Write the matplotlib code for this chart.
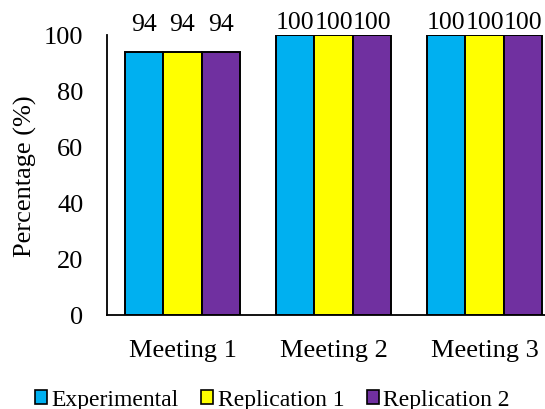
import matplotlib
matplotlib.use("Agg")
import matplotlib.pyplot as plt
import numpy as np

categories = ["Meeting 1", "Meeting 2", "Meeting 3"]
series_names = ["Experimental", "Replication 1", "Replication 2"]
experimental = [94, 100, 100]
replication_1 = [94, 100, 100]
replication_2 = [94, 100, 100]
y_ticks = [0, 20, 40, 60, 80, 100]

colors = ["#00B0F0", "#FFFF00", "#7030A0"]
plt.rcParams["font.family"] = ["Liberation Serif", "DejaVu Serif"]

fig = plt.figure(figsize=(5.45, 4.10), dpi=100)
ax = fig.add_axes([107 / 545, 1 - 316 / 410, 1 - 107 / 545, (316 - 36) / 410])

x = np.arange(len(categories))
width = 0.256
all_series = [experimental, replication_1, replication_2]
for i, (vals, name, col) in enumerate(zip(all_series, series_names, colors)):
    pos = x + (i - 1) * width
    ax.bar(pos, vals, width, color=col, edgecolor="black", linewidth=1.4,
           label=name, zorder=3)
    for px, v in zip(pos, vals):
        off = 12 if v < 100 else 1.5
        ax.annotate(f"{v}", xy=(px, v), xytext=(0, off), textcoords="offset points",
                    ha="center", va="bottom", fontsize=18.5, annotation_clip=False)

ax.set_xlim(-0.5, (545 - 107) / 151 - 0.5)
ax.set_ylim(0, 100)
ax.set_yticks(y_ticks)
ax.set_xticks(x)
ax.set_xticklabels(categories)
ax.tick_params(axis="both", length=0, labelsize=19)
ax.tick_params(axis="y", pad=17)
ax.tick_params(axis="x", pad=17)
for s in ["top", "right"]:
    ax.spines[s].set_visible(False)
for s in ["left", "bottom"]:
    ax.spines[s].set_color("black")
    ax.spines[s].set_linewidth(1.3)
ax.set_ylabel("Percentage (%)", fontsize=19, labelpad=5)

leg = fig.legend(loc="center", bbox_to_anchor=(0.5, 1 - 401 / 410), ncol=3,
                 frameon=False, fontsize=17, handlelength=0.5, handleheight=0.5,
                 handletextpad=0.2, columnspacing=0.95, borderpad=0)
for h in leg.legend_handles:
    h.set_linewidth(1.2)

fig.savefig("out.png", dpi=100)
